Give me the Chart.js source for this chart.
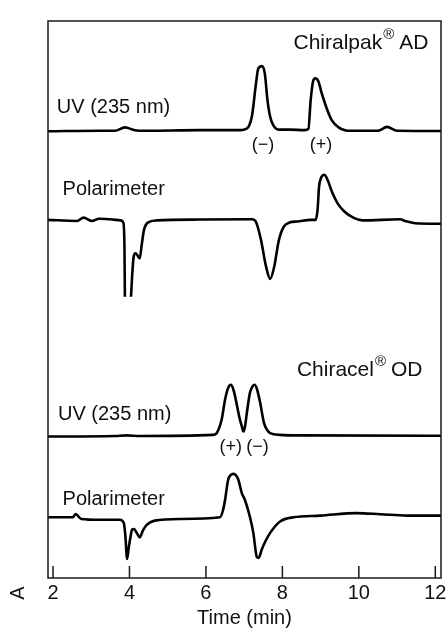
<!DOCTYPE html>
<html>
<head>
<meta charset="utf-8">
<title>Chiral HPLC traces</title>
<script src="https://cdn.jsdelivr.net/npm/chart.js@4.4.0/dist/chart.umd.min.js"></script>
<style>
  body { margin: 0; background: #fff; }
  canvas { display: block; }
</style>
</head>
<body>
<canvas id="hplcChart" width="447" height="635"></canvas>
<script>
// Chiralpak AD, UV detector at 235 nm
const uvAdTime   = [1.86, 3.22, 3.62, 3.88, 4.14, 4.40, 5.84, 6.89, 7.00, 7.20, 7.31, 7.37, 7.46, 7.54, 7.61, 7.68, 7.76, 7.90, 8.20, 8.58, 8.68, 8.74, 8.80, 8.86, 8.94, 9.03, 9.16, 9.29, 9.47, 9.64, 9.77, 10.50, 10.74, 11.00, 12.15];
const uvAdSignal = [-0.1, 0, 0, 0.6, 0.1, 0, 0.1, 0.1, 0.2, 2.5, 8.5, 11.2, 11.6, 10.3, 5.5, 2.5, 1.0, 0.2, 0.2, 0.1, 0.3, 5.5, 8.8, 9.4, 8.9, 6.7, 4.0, 1.9, 0.6, 0.1, 0, 0, 0.7, 0, -0.05];

// Chiralpak AD, polarimeter (null = pen off scale)
const polAdTime   = [1.86, 2.63, 2.80, 3.02, 3.20, 3.49, 3.77, 3.84, 3.87, 3.88, 3.96, 4.04, 4.08, 4.11, 4.16, 4.22, 4.27, 4.32, 4.38, 4.48, 4.72, 5.84, 7.21, 7.31, 7.44, 7.57, 7.68, 7.78, 7.91, 8.04, 8.20, 8.39, 8.74, 8.87, 8.92, 8.96, 9.01, 9.10, 9.18, 9.31, 9.44, 9.62, 9.88, 10.10, 11.08, 11.21, 11.48, 12.15];
const polAdSignal = [0, -0.2, 0.4, -0.2, 0.2, 0.1, -0.1, -0.5, -5.4, -13.8, null, -13.8, -9.0, -6.6, -6.0, -6.5, -6.9, -4.5, -1.8, -0.5, -0.1, 0.05, 0.1, -0.4, -3.6, -8.3, -10.6, -8.6, -3.6, -1.2, -0.45, -0.3, 0, 0, 1.8, 6.0, 7.5, 8.1, 7.2, 4.8, 3.0, 1.5, 0.3, -0.1, 0.1, -0.2, -0.6, -0.7];

// Chiracel OD, UV detector at 235 nm
const uvOdTime   = [1.86, 3.62, 3.92, 4.27, 6.19, 6.28, 6.41, 6.50, 6.58, 6.65, 6.72, 6.80, 6.88, 6.94, 6.98, 7.02, 7.07, 7.15, 7.21, 7.27, 7.34, 7.42, 7.52, 7.60, 7.68, 7.94, 8.46, 12.15];
const uvOdSignal = [-0.1, 0, 0.1, 0, 0.2, 0.5, 2.9, 6.5, 8.6, 9.2, 8.3, 5.9, 3.2, 1.7, 0.8, 1.6, 4.1, 7.7, 8.8, 9.2, 8.3, 5.9, 2.3, 1.1, 0.5, 0.2, 0.1, 0.05];

// Chiracel OD, polarimeter
const polOdTime   = [1.86, 2.52, 2.59, 2.74, 3.22, 3.75, 3.85, 3.89, 3.94, 3.98, 4.03, 4.07, 4.12, 4.19, 4.27, 4.35, 4.45, 4.66, 5.32, 6.37, 6.45, 6.50, 6.58, 6.65, 6.72, 6.79, 6.85, 6.94, 7.02, 7.15, 7.24, 7.33, 7.38, 7.46, 7.55, 7.68, 7.94, 8.29, 8.99, 9.95, 10.56, 11.26, 12.15];
const polOdSignal = [0, 0, 0.6, -0.3, -0.45, -0.45, -1.0, -3.1, -7.5, -5.5, -3.4, -2.2, -2.1, -2.8, -3.6, -2.4, -1.35, -0.6, -0.3, 0, 1.35, 3.1, 6.7, 7.6, 7.8, 7.5, 6.7, 4.3, 3.1, 0.1, -2.8, -7.1, -7.3, -5.8, -4.4, -2.8, -0.75, 0, 0.3, 0.75, 0.55, 0.3, 0.3];

// vertical offset of each trace's baseline (same order as above)
const traceOffsets = [80.3, 64.3, 25.5, 10.9];
const timeTicks = [2, 4, 6, 8, 10, 12];

// text placed in data coordinates (time, signal units)
const traceLabels = [
  { text: 'UV (235 nm)', t: 2.10, v: 84.4 },
  { text: 'Polarimeter', t: 2.25, v: 69.7 },
  { text: 'UV (235 nm)', t: 2.13, v: 29.3 },
  { text: 'Polarimeter', t: 2.25, v: 14.1 }
];
const peakLabels = [
  { text: '(\u2212)', t: 7.49, v: 77.7 },
  { text: '(+)', t: 9.01, v: 77.7 },
  { text: '(+)', t: 6.65, v: 23.6 },
  { text: '(\u2212)', t: 7.35, v: 23.6 }
];
const columnTitles = [
  { name: 'Chiralpak', phase: 'AD', t0: 8.29, v: 96.0 },
  { name: 'Chiracel', phase: 'OD', t0: 8.38, v: 37.3 }
];

const FONT = '"Liberation Sans", Arial, Helvetica, sans-serif';

function toPoints(times, signal, offset) {
  return times.map((t, i) => ({ x: t, y: signal[i] === null ? null : offset + signal[i] }));
}

const traces = [
  [uvAdTime, uvAdSignal],
  [polAdTime, polAdSignal],
  [uvOdTime, uvOdSignal],
  [polOdTime, polOdSignal]
];

const overlay = {
  id: 'overlay',
  afterDatasetsDraw(chart) {
    const { ctx, chartArea: a, scales: { x, y } } = chart;
    ctx.save();

    // frame and inward ticks
    ctx.strokeStyle = '#1a1a1a';
    ctx.lineWidth = 1.5;
    ctx.strokeRect(a.left, a.top, a.right - a.left, a.bottom - a.top);
    ctx.beginPath();
    timeTicks.forEach(v => {
      const px = x.getPixelForValue(v);
      ctx.moveTo(px, a.bottom);
      ctx.lineTo(px, a.bottom - 12);
    });
    ctx.stroke();

    ctx.fillStyle = '#111';
    ctx.textBaseline = 'middle';

    ctx.font = '20px ' + FONT;
    ctx.textAlign = 'left';
    traceLabels.forEach(l => ctx.fillText(l.text, x.getPixelForValue(l.t), y.getPixelForValue(l.v)));

    ctx.font = '18px ' + FONT;
    ctx.textAlign = 'center';
    peakLabels.forEach(l => ctx.fillText(l.text, x.getPixelForValue(l.t), y.getPixelForValue(l.v)));

    // column name, registered mark, stationary phase
    ctx.textAlign = 'left';
    columnTitles.forEach(c => {
      let px = x.getPixelForValue(c.t0);
      const py = y.getPixelForValue(c.v);
      ctx.font = '21px ' + FONT;
      ctx.fillText(c.name, px, py);
      px += ctx.measureText(c.name).width + 1;
      ctx.font = '15px ' + FONT;
      ctx.fillText('\u00AE', px, py - 8);
      px += ctx.measureText('\u00AE').width + 5;
      ctx.font = '21px ' + FONT;
      ctx.fillText(c.phase, px, py);
    });

    // absorbance axis letter, rotated
    ctx.font = '20px ' + FONT;
    ctx.textAlign = 'center';
    ctx.translate(a.left - 30, a.bottom + 15);
    ctx.rotate(-Math.PI / 2);
    ctx.fillText('A', 0, 0);

    ctx.restore();
  }
};

new Chart(document.getElementById('hplcChart'), {
  type: 'line',
  data: {
    datasets: traces.map(([t, s], i) => ({
      data: toPoints(t, s, traceOffsets[i]),
      borderColor: '#000',
      borderWidth: 2.6,
      pointRadius: 0,
      cubicInterpolationMode: 'monotone',
      spanGaps: false,
      fill: false
    }))
  },
  options: {
    responsive: false,
    animation: false,
    layout: { padding: { left: 48, right: 6, top: 21, bottom: 0 } },
    plugins: { legend: { display: false }, tooltip: { enabled: false } },
    scales: {
      x: {
        type: 'linear',
        min: 1.869,
        max: 12.149,
        border: { display: false },
        grid: { display: false, drawTicks: false },
        ticks: { padding: 3, color: '#111', font: { family: FONT, size: 20 } },
        afterBuildTicks: scale => { scale.ticks = timeTicks.map(v => ({ value: v })); },
        afterFit: scale => { scale.height = 57; scale.paddingLeft = 0; scale.paddingRight = 0; },
        title: { display: true, text: 'Time (min)', color: '#111', font: { family: FONT, size: 20 }, padding: { top: 0, bottom: 5 } }
      },
      y: { display: false, min: 0, max: 100 }
    }
  },
  plugins: [overlay]
});
</script>
</body>
</html>
